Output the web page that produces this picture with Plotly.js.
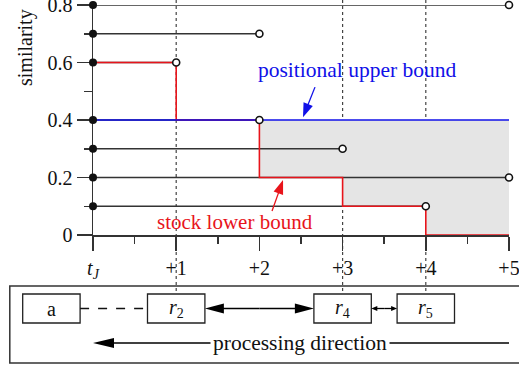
<!DOCTYPE html>
<html>
<head>
<meta charset="utf-8">
<script src="https://cdn.plot.ly/plotly-3.0.1.min.js"></script>
<style>html,body{margin:0;padding:0;background:#fff}</style>
</head>
<body>
<div id="chart" style="width:519px;height:368px"></div>
<script>
// similarity of each candidate and the step at which it drops out
const levels = [0.8, 0.7, 0.6, 0.4, 0.3, 0.2, 0.1];
const lastStep = [5, 2, 1, 2, 3, 5, 4];

// stock lower bound (step function) and positional upper bound
const lowerX = [0, 1, 2, 3, 4, 5];
const lowerY = [0.6, 0.4, 0.2, 0.1, 0, 0];
const upperX = [0, 5];
const upperY = [0.4, 0.4];

const xTickVals = [0, 1, 2, 3, 4, 5];
const xTickText = ["<i>t</i><sub><i>J</i></sub>", "+1", "+2", "+3", "+4", "+5"];
const xMinor = [0.5, 1.5, 2.5, 3.5, 4.5];
const yTickVals = [0, 0.2, 0.4, 0.6, 0.8];
const yTickText = ["0", "0.2", "0.4", "0.6", "0.8"];
const yMinor = [0.1, 0.3, 0.5, 0.7];

// processing diagram under the plot
const boxLabels = ["a", "<i>r</i><sub>2</sub>", "<i>r</i><sub>4</sub>", "<i>r</i><sub>5</sub>"];
const boxPos = [-0.5, 1, 3, 4];
const guideSteps = [1, 3, 4];

// figure geometry (px)
const W = 519, H = 368;
const L = 93, R = 509, T = 5, B = 235;
const FONT = '"Liberation Serif", "Times New Roman", serif';
const INK = "#333";
const RED = "#e8141b";
const BLUE = "#1010e8";

const xPx = v => L + v * (R - L) / 5;
const yPx = v => B - v * (B - T) / 0.8;
const px2paperX = p => p / W;
const px2paperY = p => 1 - p / H;

// black similarity lines, one segment per candidate
let segX = [], segY = [];
levels.forEach((v, i) => {
    segX.push(0, lastStep[i], null);
    segY.push(v, v, null);
});

// gray band between the bounds where they differ
const bandX = lowerX.slice(2);
const bandY = lowerY.slice(2);

var traceBandTop = {
    x: [bandX[0], bandX[bandX.length - 1]],
    y: [upperY[0], upperY[0]],
    mode: "lines",
    line: { width: 0 },
    hoverinfo: "skip",
};

var traceBand = {
    x: bandX,
    y: bandY,
    mode: "lines",
    line: { width: 0, shape: "hv" },
    fill: "tonexty",
    fillcolor: "#e5e5e5",
    hoverinfo: "skip",
};

var traceLevels = {
    x: segX,
    y: segY,
    mode: "lines",
    line: { color: INK, width: 1.5 },
    connectgaps: false,
};

var traceLower = {
    x: lowerX,
    y: lowerY,
    mode: "lines",
    line: { color: RED, width: 1.6, shape: "hv" },
};

var traceUpper = {
    x: upperX,
    y: upperY,
    mode: "lines",
    line: { color: BLUE, width: 1.3 },
};

var traceStart = {
    x: levels.map(() => 0),
    y: levels,
    mode: "markers",
    marker: { color: "#111", size: 8 },
    cliponaxis: false,
};

var traceEnd = {
    x: lastStep,
    y: levels,
    mode: "markers",
    marker: { color: "#fff", size: 7, line: { color: "#111", width: 1.6 } },
    cliponaxis: false,
};

var data = [traceBandTop, traceBand, traceLevels, traceLower, traceUpper, traceStart, traceEnd];

// diagram rows (px)
const frameTop = 286, frameBottom = 363;
const boxTop = 294, boxBottom = 323, boxRow = 308.5, boxHalf = 0.345;
const dirRow = 343;

var shapes = [];

guideSteps.forEach(s => {
    shapes.push({
        type: "line", xref: "x", yref: "paper",
        x0: s, x1: s, y0: 1, y1: px2paperY(boxTop + 1),
        line: { color: "#444", width: 1.2, dash: "dot" },
        layer: "below",
    });
});

shapes.push({
    type: "rect", xref: "paper", yref: "paper",
    x0: px2paperX(xPx(-1)), x1: 1.05, y0: px2paperY(frameTop), y1: px2paperY(frameBottom),
    line: { color: INK, width: 1.5 },
});

boxPos.forEach(p => {
    shapes.push({
        type: "rect", xref: "paper", yref: "paper",
        x0: px2paperX(xPx(p - boxHalf)), x1: px2paperX(xPx(p + boxHalf)),
        y0: px2paperY(boxTop), y1: px2paperY(boxBottom),
        line: { color: "#222", width: 1.3 },
        fillcolor: "#fff",
    });
});

function seg(x0, y0, x1, y1, color, dash) {
    return {
        type: "line", xref: "paper", yref: "paper",
        x0: px2paperX(x0), x1: px2paperX(x1), y0: px2paperY(y0), y1: px2paperY(y1),
        line: { color: color, width: 1.3, dash: dash || "solid" },
    };
}

// filled triangle head with its tip at (tx, ty), pointing away from (fx, fy)
function head(tx, ty, fx, fy, len, half, color) {
    const d = Math.hypot(tx - fx, ty - fy);
    const ux = (tx - fx) / d, uy = (ty - fy) / d;
    const bx = tx - ux * len, by = ty - uy * len;
    const p = (x, y) => px2paperX(x) + "," + px2paperY(y);
    return {
        type: "path", xref: "paper", yref: "paper",
        path: "M" + p(tx, ty) + "L" + p(bx - uy * half, by + ux * half) +
              "L" + p(bx + uy * half, by - ux * half) + "Z",
        fillcolor: color,
        line: { width: 0 },
    };
}

function arrow(tx, ty, fx, fy, len, half, color) {
    const d = Math.hypot(tx - fx, ty - fy);
    const ex = tx - (tx - fx) / d * (len - 2), ey = ty - (ty - fy) / d * (len - 2);
    return [seg(fx, fy, ex, ey, color), head(tx, ty, fx, fy, len, half, color)];
}

const aRight = xPx(boxPos[0] + boxHalf), r2Left = xPx(boxPos[1] - boxHalf);
const r2Right = xPx(boxPos[1] + boxHalf), r4Left = xPx(boxPos[2] - boxHalf);
const r4Right = xPx(boxPos[2] + boxHalf), r5Left = xPx(boxPos[3] - boxHalf);
const midR = (r2Right + r4Left) / 2, midS = (r4Right + r5Left) / 2;

shapes.push(seg(aRight, boxRow, r2Left, boxRow, "#111", "dash"));
shapes.push(...arrow(r2Right, boxRow, midR, boxRow, 19, 5, "#000"));
shapes.push(...arrow(r4Left, boxRow, midR, boxRow, 19, 5, "#000"));
shapes.push(...arrow(r4Right, boxRow, midS, boxRow, 6, 2.6, "#000"));
shapes.push(...arrow(r5Left, boxRow, midS, boxRow, 6, 2.6, "#000"));
shapes.push(...arrow(xPx(0), dirRow, xPx(5), dirRow, 21, 5, "#000"));

// pointers from the labels to the bounds
shapes.push(...arrow(xPx(2.524), yPx(0.41), xPx(2.524) + 12, yPx(0.41) - 30, 14, 5, BLUE));
shapes.push(...arrow(xPx(2.284), yPx(0.191), xPx(2.284) - 11, yPx(0.191) + 31, 14, 5, RED));

var textBase = { showarrow: false, xanchor: "center", yanchor: "middle" };

var annotations = [
    Object.assign({}, textBase, {
        text: "similarity", xref: "paper", yref: "paper",
        x: px2paperX(25), y: px2paperY(48), textangle: -90,
        font: { family: FONT, size: 20, color: "#111" },
    }),
    Object.assign({}, textBase, {
        text: "positional upper bound", x: 3.185, y: 0.574,
        font: { family: FONT, size: 21.5, color: BLUE },
    }),
    Object.assign({}, textBase, {
        text: "stock lower bound", x: 1.707, y: 0.045,
        font: { family: FONT, size: 21, color: RED },
    }),
    Object.assign({}, textBase, {
        text: "processing direction", xref: "paper", yref: "paper",
        x: px2paperX(xPx(2.49)), y: px2paperY(dirRow),
        bgcolor: "#fff", borderpad: 2,
        font: { family: FONT, size: 21.5, color: "#111" },
    }),
];

boxLabels.forEach((t, i) => {
    annotations.push(Object.assign({}, textBase, {
        text: t, xref: "paper", yref: "paper",
        x: px2paperX(xPx(boxPos[i])), y: px2paperY(boxRow),
        font: { family: FONT, size: 20, color: "#111" },
    }));
});

var axisCommon = {
    showgrid: false,
    zeroline: false,
    showline: true,
    linecolor: INK,
    linewidth: 1.5,
    ticks: "outside",
    tickwidth: 1.5,
    tickcolor: INK,
    tickmode: "array",
    ticklabeloverflow: "allow",
    tickfont: { family: FONT, size: 20, color: "#111" },
    layer: "below traces",
    fixedrange: true,
};

var layout = {
    width: W,
    height: H,
    margin: { l: 0, r: 0, t: 0, b: 0 },
    paper_bgcolor: "#fff",
    plot_bgcolor: "rgba(0,0,0,0)",
    showlegend: false,
    font: { family: FONT },
    xaxis: Object.assign({}, axisCommon, {
        domain: [L / W, R / W],
        range: [0, 5],
        tickvals: xTickVals,
        ticktext: xTickText,
        ticklen: 14,
        minor: { tickvals: xMinor, ticks: "outside", ticklen: 7, tickwidth: 1.5, tickcolor: INK },
    }),
    yaxis: Object.assign({}, axisCommon, {
        domain: [1 - B / H, 1 - T / H],
        range: [0, 0.8],
        tickvals: yTickVals,
        ticktext: yTickText,
        ticklen: 15,
        minor: { tickvals: yMinor, ticks: "outside", ticklen: 8, tickwidth: 1.5, tickcolor: INK },
    }),
    shapes: shapes,
    annotations: annotations,
};

Plotly.newPlot("chart", data, layout, { displayModeBar: false, staticPlot: true });
</script>
</body>
</html>
